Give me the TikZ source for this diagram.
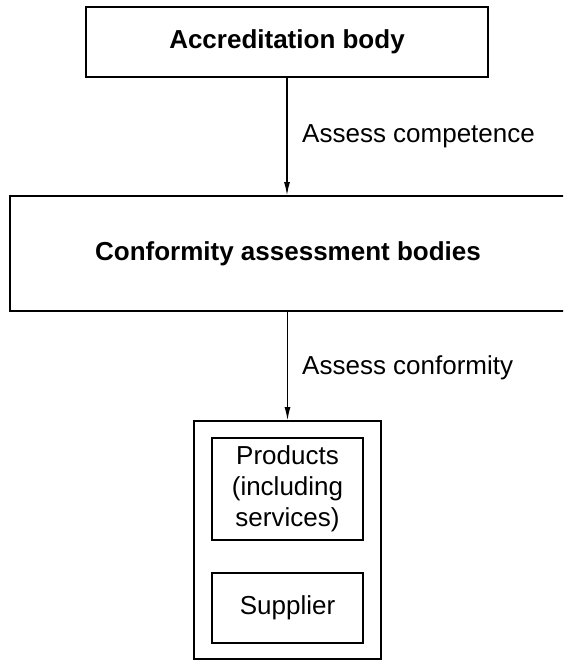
\documentclass[tikz,border=0pt]{standalone}
\usepackage{fontspec}
\setmainfont{Liberation Sans}
\usetikzlibrary{arrows.meta}
\begin{document}
\begin{tikzpicture}[x=1pt,y=-1pt,
  box/.style={draw=black,line width=1.8pt,inner sep=0pt,font=\fontsize{26}{31}\selectfont,align=center},
  conn/.style={line width=1.1pt,-{Latex[length=13pt,width=6pt]}},
  lbl/.style={font=\fontsize{26}{31}\selectfont,anchor=west,inner sep=0pt}]
\useasboundingbox (0,0) rectangle (563,663);
\clip (0,0) rectangle (563,663);
\node[box,minimum width=402pt,minimum height=70pt,font=\fontsize{26}{31}\selectfont\bfseries] (ab) at (287,42) {Accreditation body};
\node[box,minimum width=556pt,minimum height=115pt,font=\fontsize{26}{31}\selectfont\bfseries] (cab) at (288,253.5) {Conformity assessment bodies};
\node[box,minimum width=187pt,minimum height=238pt] (outer) at (287.5,540) {};
\node[box,minimum width=151pt,minimum height=102pt] (prod) at (287.5,489) {Products\\(including\\services)};
\node[box,minimum width=151pt,minimum height=70pt] (sup) at (287.5,608) {Supplier};
\draw[conn] (ab.south) -- (ab.south |- cab.north);
\draw[conn] (outer.north |- cab.south) -- (outer.north);
\node[lbl] (l1) at (302,136) {Assess competence};
\node[lbl] (l2) at (302,368) {Assess conformity};
\end{tikzpicture}
\end{document}
